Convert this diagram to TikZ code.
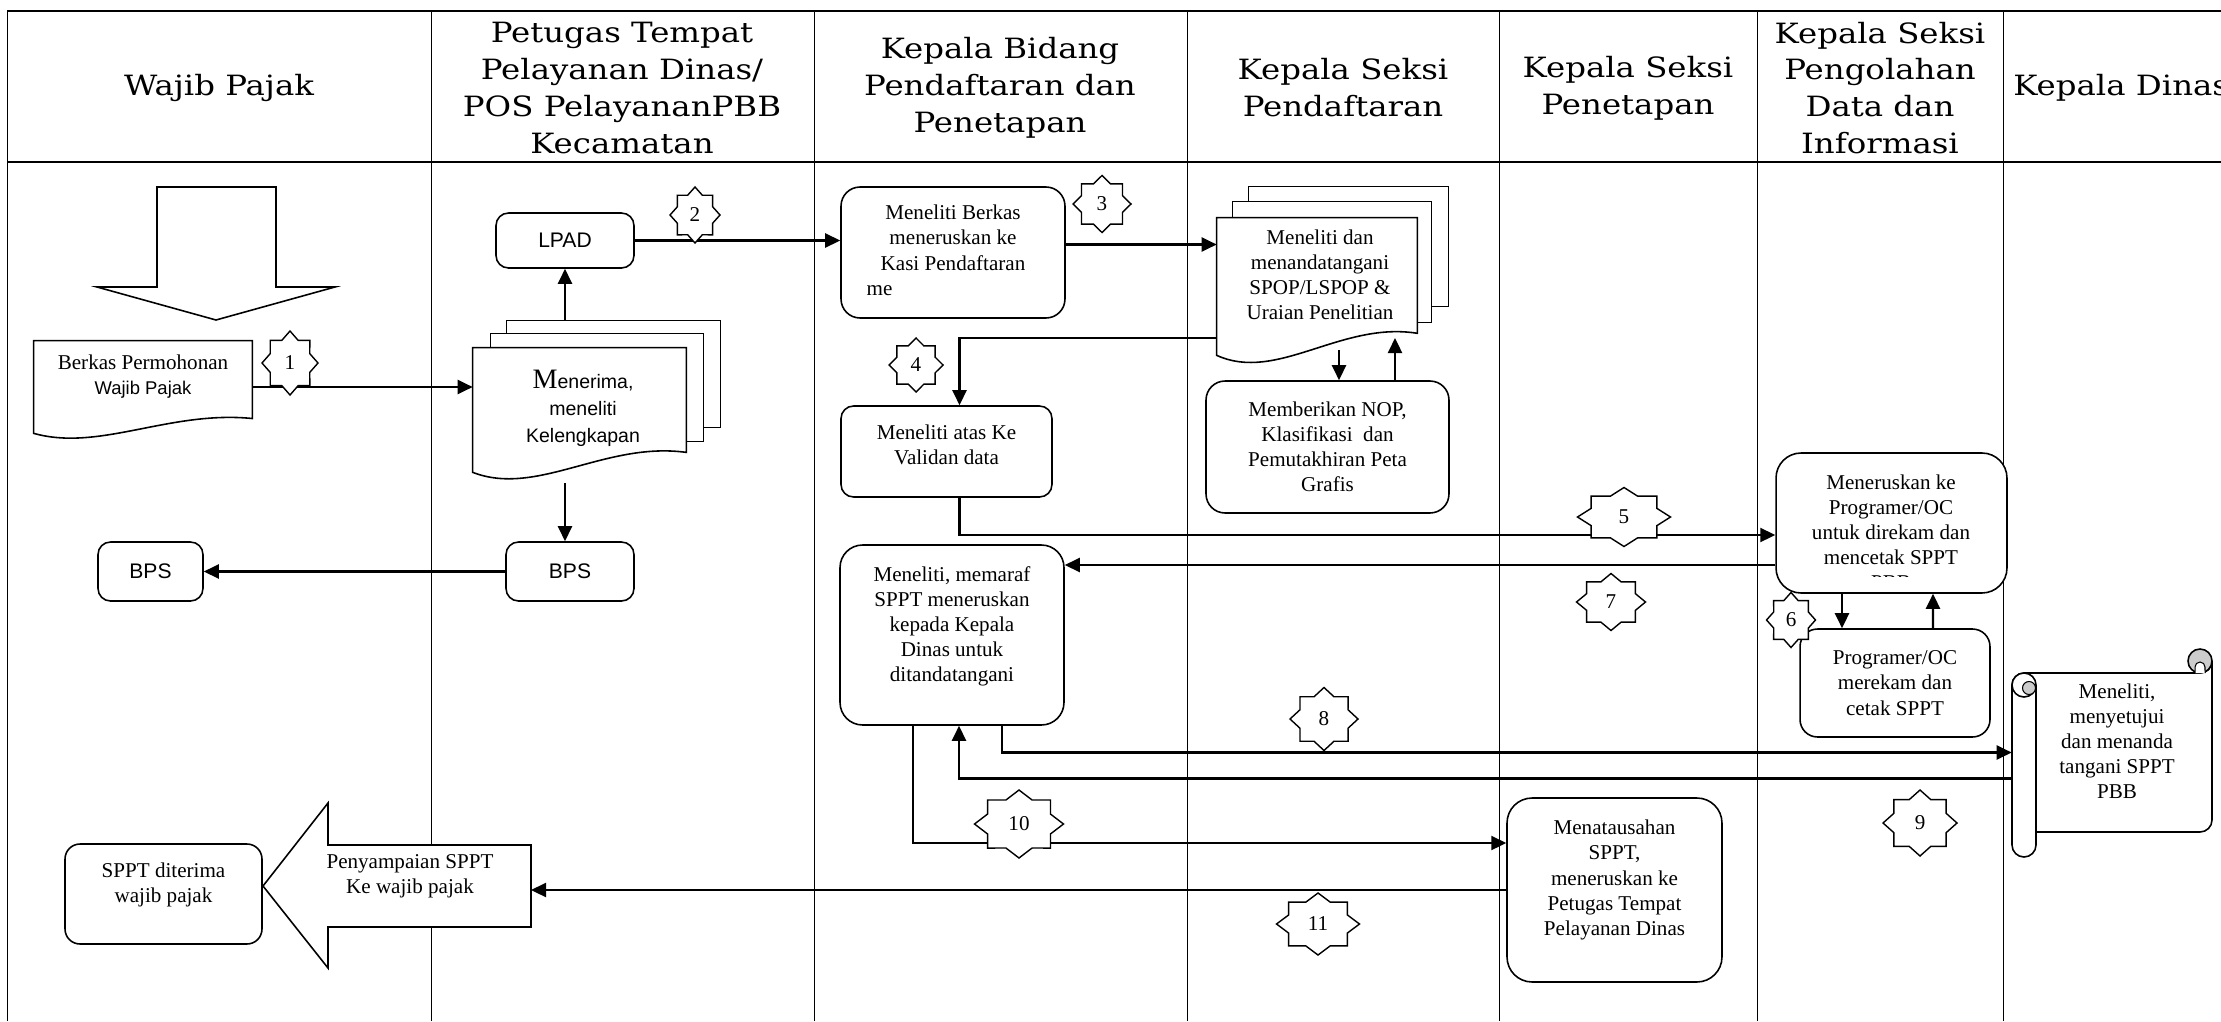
\documentclass[tikz,border=0pt]{standalone}
\usepackage{fontspec}
\setmainfont{Liberation Serif}
\setsansfont{Liberation Sans}
\newfontfamily\headfont[FakeStretch=1.16]{DejaVu Serif}
\usetikzlibrary{arrows.meta,calc}

\newcommand{\headtext}{\headfont\fontsize{15.9}{21}\selectfont}
\newcommand{\bodytext}{\rmfamily\fontsize{12}{14.3}\selectfont}
\newcommand{\sanstext}{\sffamily\fontsize{12}{14}\selectfont}
\newcommand{\dropline}[1]{\rule[-#1]{0pt}{#1}}

% document shape with a wavy bottom, drawn over a named node
\newcommand{\docpage}[1]{%
  \filldraw[fill=white, line width=0.9pt]
    let \p1=(#1.north west), \p2=(#1.south east),
        \n1={\x2-\x1}, \n2={\y1-\y2} in
    (\p1) -- (\x2,\y1) -- (\x2,{\y2+0.16*\n2})
    .. controls ({\x1+0.62*\n1},{\y2+0.25*\n2})
            and ({\x1+0.3*\n1},{\y2-0.2*\n2}) .. (\x1,\y2) -- cycle;}

% numbered 8-point star
\newcommand{\stepmark}[6]{%
  \filldraw[fill=white, line width=0.8pt] (#2+#4,#3)
    \foreach \ang in {0,45,...,315}{
      -- ({#2+#4*cos(\ang)},{#3+#5*sin(\ang)})
      -- ({#2+0.765*#4*cos(\ang+22.5)},{#3+0.765*#5*sin(\ang+22.5)})}
    -- cycle;
  \node[font=\bodytext, inner sep=0pt] (#1) at (#2,#3) {#6};}

\begin{document}
\begin{tikzpicture}[
    x=0.02cm, y=-0.02cm,
    lane/.style    = {line width=0.5pt},
    headtxt/.style = {align=center, inner sep=0pt, font=\headtext},
    procbox/.style = {draw, fill=white, line width=0.9pt,
                      rounded corners=0.38cm, align=center,
                      inner sep=0pt, font=\bodytext},
    tagbox/.style  = {procbox, rounded corners=0.25cm, font=\sanstext},
    docarea/.style = {inner sep=0pt},
    txt/.style     = {align=center, inner sep=0pt, font=\bodytext},
    pagebox/.style = {fill=white, line width=0.9pt},
    arr/.style     = {line width=1.3pt,
                      -{Triangle[length=0.3cm,width=0.28cm]}}
]
\useasboundingbox (0,0) rectangle (2221,1021);
\clip (0,0) rectangle (2221,1021);

% lanes
\draw[line width=0.7pt] (7,11) -- (2221,11);
\draw[line width=0.9pt] (7,162) -- (2221,162);
\foreach \lx in {7,431,814,1187,1499,1757,2003}
  \draw[lane] (\lx,11) -- (\lx,1021);

% header
\node[headtxt] (hwp) at (219,88) {Wajib Pajak};
\node[headtxt] (hpt) at (622,88) {Petugas Tempat\\Pelayanan Dinas/\\POS PelayananPBB\\Kecamatan};
\node[headtxt] (hkb) at (1000,88) {Kepala Bidang\\Pendaftaran dan\\Penetapan};
\node[headtxt] (hkp) at (1343,88) {Kepala Seksi\\Pendaftaran};
\node[headtxt] (hks) at (1628,88) {Kepala Seksi\\Penetapan};
\node[headtxt] (hpd) at (1880,88) {Kepala Seksi\\Pengolahan\\Data dan\\Informasi};
\node[headtxt, anchor=west] (hkd) at (2013,88) {Kepala Dinas};

% big block arrows
\filldraw[pagebox] (157,187) -- (276,187) -- (276,287) -- (335,287)
  -- (216,320) -- (97,287) -- (157,287) -- cycle;
\filldraw[pagebox] (263,886) -- (328,803) -- (328,845) -- (531,845)
  -- (531,927) -- (328,927) -- (328,968) -- cycle;
\node[txt] (sampai) at (410,876) {Penyampaian SPPT\\Ke wajib pajak};
\coordinate (sampaiR) at (531,891);

% Wajib Pajak
\node[docarea, minimum width=4.36cm, minimum height=1.84cm] (berkas) at (143,387) {};
\docpage{berkas}
\node[txt] (berkasT) at (143,377) {Berkas Permohonan\\{\sffamily\fontsize{10.5}{14.3}\selectfont Wajib Pajak}};
\node[tagbox, minimum width=2.1cm, minimum height=1.18cm] (bpsB) at (150.5,571.5) {BPS};
\node[procbox, rounded corners=0.3cm, minimum width=3.94cm, minimum height=2cm] (diterima) at (163.5,894) {SPPT diterima\\wajib pajak\dropline{0.45cm}};

% Petugas
\node[docarea, minimum width=4.26cm, minimum height=2.48cm] (terima) at (579.5,410) {};
\filldraw[pagebox] ($(terima.north west)+(34,-27)$) rectangle ($(terima.south east)+(34,-45)$);
\filldraw[pagebox] ($(terima.north west)+(18,-14)$) rectangle ($(terima.south east)+(17,-31)$);
\docpage{terima}
\node[txt, font={\sffamily\fontsize{11.1}{15.4}\selectfont}] (terimaT) at (583,408)
  {{\rmfamily\fontsize{16}{15.4}\selectfont M}enerima,\\meneliti\\Kelengkapan};
\node[tagbox, minimum width=2.76cm, minimum height=1.1cm] (lpad) at (565,240.5) {LPAD};
\node[tagbox, minimum width=2.56cm, minimum height=1.18cm] (bpsA) at (570,571.5) {BPS};

% Kepala Bidang
\node[procbox, minimum width=4.48cm, minimum height=2.62cm] (berkasB) at (953,252.5)
  {\begin{tabular}{@{}c@{}}Meneliti Berkas\\meneruskan ke\\Kasi Pendaftaran\\
   \multicolumn{1}{@{}l@{}}{\hspace{-0.28cm}me}\end{tabular}};
\node[procbox, rounded corners=0.25cm, minimum width=4.22cm, minimum height=1.82cm] (validasi) at (946.5,451.5)
  {Meneliti atas Ke\\Validan data\dropline{0.26cm}};
\node[procbox, rounded corners=0.45cm, minimum width=4.48cm, minimum height=3.6cm] (memaraf) at (952,635)
  {Meneliti, memaraf\\SPPT meneruskan\\kepada Kepala\\Dinas untuk\\ditandatangani\dropline{0.43cm}};

% Kasi Pendaftaran
\node[docarea, minimum width=4cm, minimum height=2.74cm] (periksa) at (1317,286.5) {};
\filldraw[pagebox] ($(periksa.north west)+(32,-31)$) rectangle ($(periksa.south east)+(31,-49)$);
\filldraw[pagebox] ($(periksa.north west)+(16,-16)$) rectangle ($(periksa.south east)+(14,-33)$);
\docpage{periksa}
\node[txt] (periksaT) at (1320,275) {Meneliti dan\\menandatangani\\SPOP/LSPOP \&\\Uraian Penelitian};
\node[procbox, minimum width=4.86cm, minimum height=2.64cm] (nop) at (1327.5,447)
  {Memberikan NOP,\\Klasifikasi\ \ dan\\Pemutakhiran Peta\\Grafis};

% Kasi Penetapan
\node[procbox, rounded corners=0.5cm, minimum width=4.3cm, minimum height=3.68cm] (tatausaha) at (1614.5,890)
  {Menatausahan\\SPPT,\\meneruskan ke\\Petugas Tempat\\Pelayanan Dinas\dropline{0.49cm}};

% Kasi Pengolahan Data
\node[procbox, rounded corners=0.5cm, minimum width=4.62cm, minimum height=2.8cm] (teruskan) at (1891.5,523) {};
\begin{scope}
  \clip (teruskan.north west) rectangle ($(teruskan.south east)+(0,-17)$);
  \node[txt] (teruskanT) at (1891,532) {Meneruskan ke\\Programer/OC\\untuk direkam dan\\mencetak SPPT\\PBB};
\end{scope}
\node[procbox, rounded corners=0.35cm, minimum width=3.8cm, minimum height=2.16cm] (programer) at (1895,683)
  {Programer/OC\\merekam dan\\cetak SPPT};

% Kepala Dinas scroll
\node[docarea, minimum width=4cm, minimum height=3.18cm] (scroll) at (2112,752.5) {};
\filldraw[pagebox] (2024,673) -- (2200,673) arc[start angle=270, end angle=360, radius=0.24cm]
  -- (2212,820) arc[start angle=0, end angle=-90, radius=0.24cm] -- (2036,832) -- (2036,845)
  arc[start angle=0, end angle=-180, radius=0.24cm] -- (2012,685)
  arc[start angle=180, end angle=90, radius=0.24cm] -- cycle;
\draw[line width=0.9pt] (2036,685) -- (2036,845);
\filldraw[pagebox] (2024,685) circle[radius=0.24cm];
\filldraw[fill=gray!40, line width=0.6pt] (2029,688) circle[radius=0.13cm];
\filldraw[fill=gray!40, line width=0.9pt] (2200,661) circle[radius=0.24cm];
\filldraw[fill=white, line width=0.6pt] (2195,673) -- (2195,667)
  arc[start angle=180, end angle=0, radius=0.1cm] -- (2205,673);
\node[txt] (scrollT) at (2117,741) {Meneliti,\\menyetujui\\dan menanda\\tangani SPPT\\PBB};

% connectors
\draw[arr] (berkas.east) -- (berkas.east -| terima.west);
\coordinate (c2) at ($(terima.north)+(0,-27)$);
\draw[arr] (lpad.south |- c2) -- (lpad.south);
\draw[arr] ($(lpad.south |- terima.south)+(0,11)$) -- (lpad.south |- bpsA.north);
\draw[arr] (bpsA.west) -- (bpsB.east);
\draw[arr] (lpad.east) -- (lpad.east -| berkasB.west);
\draw[arr] ($(berkasB.east)+(0,-8)$) coordinate (c3) -- (c3 -| periksa.west);
\draw[arr] ($(periksa.south west)+(0,-17)$) -| ($(validasi.north)+(13,0)$);
\coordinate (pw1) at (1339,350);
\coordinate (pw2) at (1395,338);
\draw[arr] (pw1) -- (pw1 |- nop.north);
\draw[arr] (pw2 |- nop.north) -- (pw2);
\draw[arr] ($(validasi.south)+(13,0)$) |- ($(teruskan.west)+(0,12)$);
\draw[arr] ($(teruskan.south)+(-49.5,0)$) -- ($(programer.north)+(-53,0)$);
\draw[arr] ($(programer.north)+(38,0)$) -- ($(teruskan.south)+(41.5,0)$);
\draw[arr] ($(teruskan.west)+(0,42)$) coordinate (c7) -- (c7 -| memaraf.east);
\draw[arr] ($(memaraf.south)+(50,0)$) |- (scroll.west);
\draw[arr] ($(scroll.west)+(0,26)$) -| ($(memaraf.south)+(7,0)$);
\draw[arr] ($(memaraf.south)+(-39,0)$) |- ($(tatausaha.west)+(0,-47)$);
\draw[arr] (tatausaha.west) -- (tatausaha.west -| sampaiR);

% step numbers
\stepmark{n1}{290}{363}{28}{32}{1}
\stepmark{n2}{695}{215}{25}{28}{2}
\stepmark{n3}{1102}{204}{29}{28.5}{3}
\stepmark{n4}{916}{365}{27}{27}{4}
\stepmark{n5}{1624}{517}{46.5}{29.5}{5}
\stepmark{n6}{1791}{620}{24.5}{27.5}{6}
\stepmark{n7}{1611}{602}{34.5}{28.5}{7}
\stepmark{n8}{1324}{719}{34}{31.5}{8}
\stepmark{n9}{1920}{823}{37}{33}{9}
\stepmark{n10}{1019}{824}{44.5}{34}{10}
\stepmark{n11}{1318}{924}{41.5}{31}{11}
\end{tikzpicture}
\end{document}
